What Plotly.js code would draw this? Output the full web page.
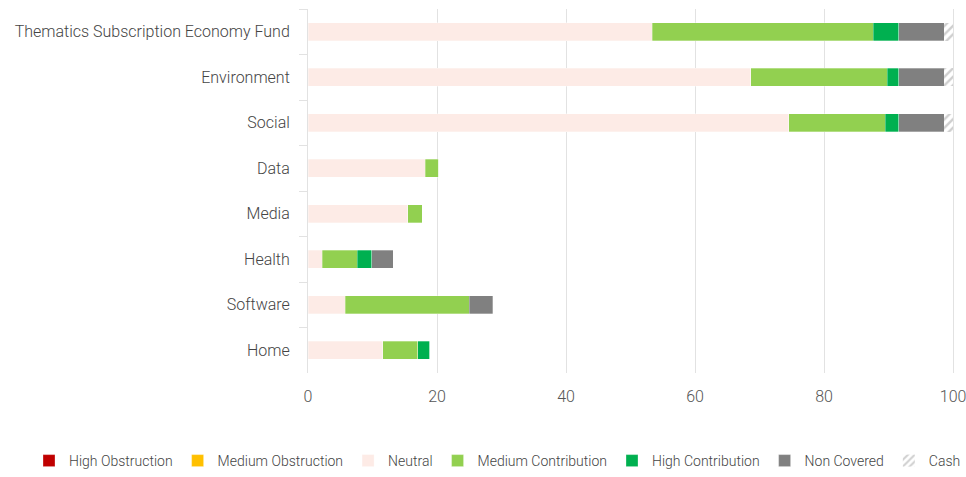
<!DOCTYPE html>
<html>
<head>
<meta charset="utf-8">
<script src="https://cdn.plot.ly/plotly-3.0.1.min.js"></script>
<style>html,body{margin:0;padding:0;background:#fff;}#chart{width:966px;height:477px;}</style>
</head>
<body>
<div id="chart"></div>
<script>
const categories = ["Thematics Subscription Economy Fund","Environment","Social","Data","Media","Health","Software","Home"];
const highObstruction   = [0, 0, 0, 0, 0, 0, 0, 0];
const mediumObstruction = [0, 0, 0, 0, 0, 0, 0, 0];
const neutral           = [53.4, 68.6, 74.5, 18.2, 15.5, 2.2, 5.8, 11.6];
const mediumContribution= [34.2, 21.2, 15.0, 2.1, 2.2, 5.4, 19.2, 5.4];
const highContribution  = [4.0, 1.8, 2.1, 0, 0, 2.3, 0, 1.9];
const nonCovered        = [7.0, 7.0, 7.0, 0, 0, 3.3, 3.6, 0];
const cash              = [1.4, 1.4, 1.4, 0, 0, 0, 0, 0];
const xTicks = [0, 20, 40, 60, 80, 100];

const FONT = "Roboto, 'Open Sans', sans-serif";
function bar(name, x, color, extra) {
  return Object.assign({
    type: "bar", orientation: "h", name: name, x: x, y: categories,
    marker: {color: color, line: {color: "rgba(255,255,255,0.6)", width: 0.5}},
    hoverinfo: "x+name"
  }, extra || {});
}
const traces = [
  bar("High Obstruction", highObstruction, "#C00000"),
  bar("Medium Obstruction", mediumObstruction, "#FFC000"),
  bar("Neutral", neutral, "#FDEBE6"),
  bar("Medium Contribution", mediumContribution, "#92D050"),
  bar("High Contribution", highContribution, "#00B050"),
  bar("Non Covered", nonCovered, "#808080"),
  bar("Cash", cash, "#ffffff", {marker: {color: "#ffffff", pattern: {shape: "/", fgcolor: "#cfcfcf", bgcolor: "#ffffff", size: 6, solidity: 0.4}, line: {color: "rgba(255,255,255,0)", width: 0}}})
];
const layout = {
  width: 966, height: 477,
  margin: {l: 308, r: 0, t: 9, b: 103},
  barmode: "stack", bargap: 0.6,
  paper_bgcolor: "#fff", plot_bgcolor: "#fff",
  font: {family: FONT, weight: 300, size: 16, color: "#444"},
  showlegend: true,
  legend: {orientation: "h", x: -0.39, xanchor: "left", y: -0.241, yanchor: "middle",
           font: {family: FONT, weight: 300, size: 14, color: "#444"}, itemwidth: 30, traceorder: "normal"},
  xaxis: {range: [0, 102.0], tickvals: xTicks, ticktext: xTicks.map(String), showgrid: true, gridcolor: "#e2e2e2", gridwidth: 1,
          zeroline: false, showline: false, ticks: "", ticklabelstandoff: 12, ticklabeloverflow: "allow",
          tickfont: {family: FONT, weight: 300, size: 16, color: "#555"}, fixedrange: true},
  yaxis: {autorange: "reversed", type: "category", showline: true, linecolor: "#e2e2e2", linewidth: 1,
          ticks: "outside", tickson: "boundaries", ticklen: 8, tickcolor: "#e2e2e2", ticklabelstandoff: 14,
          showgrid: false, tickfont: {family: FONT, weight: 300, size: 16, color: "#444"}, fixedrange: true}
};
Plotly.newPlot("chart", traces, layout, {displayModeBar: false, staticPlot: true});
</script>
</body>
</html>
